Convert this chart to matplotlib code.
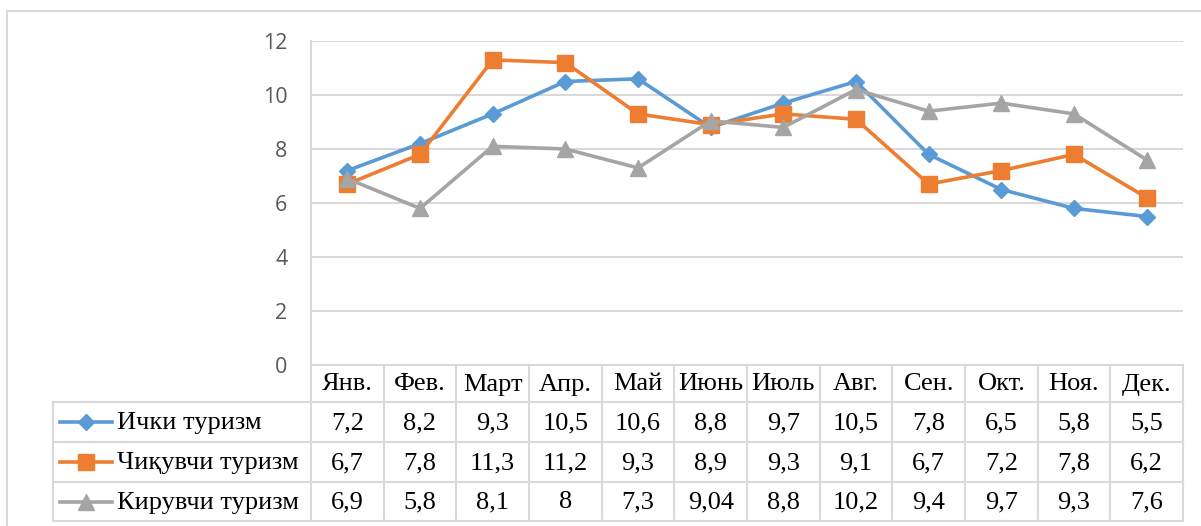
import matplotlib
matplotlib.use('Agg')
import matplotlib.pyplot as plt
from matplotlib.patches import Rectangle

# ─────────────────────────────────────────
# DATA
# ─────────────────────────────────────────
months = ['Янв.', 'Фев.', 'Март', 'Апр.', 'Май', 'Июнь',
          'Июль', 'Авг.', 'Сен.', 'Окт.', 'Ноя.', 'Дек.']
domestic = [7.2, 8.2, 9.3, 10.5, 10.6, 8.8, 9.7, 10.5, 7.8, 6.5, 5.8, 5.5]
outbound = [6.7, 7.8, 11.3, 11.2, 9.3, 8.9, 9.3, 9.1, 6.7, 7.2, 7.8, 6.2]
inbound = [6.9, 5.8, 8.1, 8.0, 7.3, 9.04, 8.8, 10.2, 9.4, 9.7, 9.3, 7.6]
series_names = ['Ички туризм', 'Чиқувчи туризм', 'Кирувчи туризм']
y_ticks = [0, 2, 4, 6, 8, 10, 12]

series = [domestic, outbound, inbound]
colors = ['#5B9BD5', '#ED7D31', '#A5A5A5']
markers = ['D', 's', '^']
msizes = [8, 11, 12]

W, H = 1201, 526
GRID = '#d9d9d9'


def fx(px):
    return px / W


def fy(py):
    return 1 - py / H


fig = plt.figure(figsize=(W / 100, H / 100), dpi=100)

# outer chart frame
fig.patches.append(Rectangle((fx(7), fy(530)), fx(1210) - fx(7), fy(11) - fy(530),
                             transform=fig.transFigure, fill=False,
                             edgecolor=GRID, linewidth=1.5, clip_on=False))

# ─────────────────────────────────────────
# LINE PLOT
# ─────────────────────────────────────────
L, R, T, B = 311, 1183, 41, 365
ax = fig.add_axes([fx(L), fy(B), fx(R) - fx(L), fy(T) - fy(B)])
x = list(range(len(months)))
for vals, c, m, ms in zip(series, colors, markers, msizes):
    ax.plot(x, vals, color=c, linewidth=2.6, marker=m, markersize=ms,
            markerfacecolor=c, markeredgecolor=c, zorder=3)

ax.set_xlim(-0.5, len(months) - 0.5)
ax.set_ylim(0, 12)
ax.set_yticks(y_ticks)
ax.set_xticks([])
ax.grid(axis='y', color=GRID, linewidth=1.5)
ax.set_axisbelow(True)
for s in ['top', 'right', 'bottom']:
    ax.spines[s].set_visible(False)
ax.spines['left'].set_color(GRID)
ax.spines['left'].set_linewidth(1.5)
ax.tick_params(axis='y', length=0, pad=17, labelsize=15.5, labelcolor='#595959')
for lab in ax.get_yticklabels():
    lab.set_fontfamily('Open Sans')

# ─────────────────────────────────────────
# DATA TABLE
# ─────────────────────────────────────────
TL, TB = 53, 521
col_w = (R - L) / len(months)
extra = (L - TL) / col_w
tab = fig.add_axes([fx(TL), fy(TB), fx(R) - fx(TL), fy(B) - fy(TB)])
tab.set_xlim(-0.5 - extra, len(months) - 0.5)
tab.set_ylim(TB - B, 0)
tab.axis('off')

row_edges = [0, 37, 77, 117, 156]
lkw = dict(color=GRID, linewidth=1.5, clip_on=False)
# horizontal lines
tab.plot([-0.5, len(months) - 0.5], [0, 0], **lkw)
for ye in row_edges[1:]:
    tab.plot([-0.5 - extra, len(months) - 0.5], [ye, ye], **lkw)
# vertical lines
for i in range(len(months) + 1):
    tab.plot([i - 0.5, i - 0.5], [0, row_edges[-1]], **lkw)
tab.plot([-0.5 - extra, -0.5 - extra], [row_edges[1], row_edges[-1]], **lkw)

tfont = dict(family='Liberation Serif', fontsize=19, color='black')
for i, mname in enumerate(months):
    tab.text(i, (row_edges[0] + row_edges[1]) / 2 + 1, mname,
             ha='center', va='center', **tfont)


def px2x(px):
    return -0.5 + (px - L) / col_w


for r, (name, vals, c, m, ms) in enumerate(zip(series_names, series, colors, markers, msizes)):
    yc = (row_edges[r + 1] + row_edges[r + 2]) / 2
    tab.plot([px2x(60), px2x(112)], [yc, yc], color=c, linewidth=2.6, clip_on=False)
    tab.plot([px2x(86)], [yc], marker=m, markersize=ms, color=c, clip_on=False)
    tab.text(px2x(117), yc + 1, name, ha='left', va='center', **tfont)
    for i, v in enumerate(vals):
        tab.text(i, yc + 1, f'{v:g}'.replace('.', ','), ha='center', va='center', **tfont)

plt.savefig('out.png', dpi=100)
plt.close()
